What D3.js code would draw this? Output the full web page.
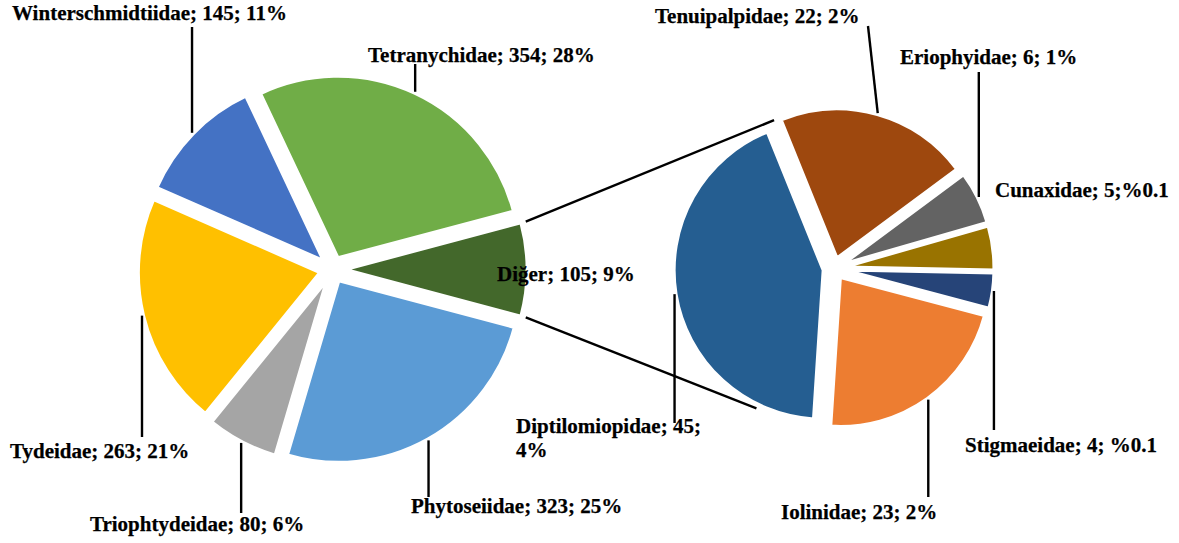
<!DOCTYPE html>
<html>
<head>
<meta charset="utf-8">
<script src="https://cdn.jsdelivr.net/npm/d3@7"></script>
<style>
  body { margin: 0; background: #fff; }
  text { font-family: "Liberation Serif", "Times New Roman", serif; font-weight: bold; font-size: 21px; fill: #000; stroke: #000; stroke-width: 0.25px; }
</style>
</head>
<body>
<svg id="chart"></svg>
<script>
// main pie (clockwise from 12 o'clock)
const mainNames = ["Tetranychidae", "Diğer", "Phytoseiidae", "Triophtydeidae", "Tydeidae", "Winterschmidtiidae"];
const mainValues = [354, 105, 323, 80, 263, 145];
const mainPercents = ["28%", "9%", "25%", "6%", "21%", "11%"];
const mainColors = ["#70ad47", "#43682b", "#5b9bd5", "#a5a5a5", "#ffc000", "#4472c4"];
const otherIndex = 1;

// second pie: breakdown of "Diğer"
const subNames = ["Tenuipalpidae", "Eriophyidae", "Cunaxidae", "Stigmaeidae", "Iolinidae", "Diptilomiopidae"];
const subValues = [22, 6, 5, 4, 23, 45];
const subPercents = ["2%", "1%", "%0.1", "%0.1", "2%", "4%"];
const subColors = ["#9e480e", "#636363", "#997300", "#264478", "#ed7d31", "#255e91"];

const width = 1179, height = 543;
const deg = Math.PI / 180;

// label placement (baseline x/y) and leader line start
const mainLabelPos = [
    { x: 368, y: 62, leaderY: 64 },
    { x: 497, y: 281 },
    { x: 411, y: 513, leaderY: 497 },
    { x: 90, y: 531, leaderY: 513 },
    { x: 10, y: 458, leaderY: 437 },
    { x: 12, y: 20, leaderY: 27 }
];
const subLabelPos = [
    { x: 655, y: 23, leaderY: 26, leaderX: 868 },
    { x: 900, y: 64, leaderY: 72 },
    { x: 995, y: 197, tight: true },
    { x: 965, y: 452, leaderY: 430 },
    { x: 781, y: 519, leaderY: 497 },
    { x: 516, y: 433, leaderY: 423, wrap: true }
];

const mainGeo = { cx: 332.5, cy: 269.5, r: 181.5, explode: 13 };
const subGeo = { cx: 834, cy: 268.5, r: 149, explode: 11, start: -22 * deg };
const bottomConnectorAngle = 209 * deg;
const lineWidth = 2.4;

const svg = d3.select("#chart")
    .attr("width", width)
    .attr("height", height)
    .attr("viewBox", `0 0 ${width} ${height}`);

const dir = a => [Math.sin(a), -Math.cos(a)];

// main pie rotated so "Diğer" is centred at 3 o'clock
const total = d3.sum(mainValues);
const before = d3.sum(mainValues.slice(0, otherIndex)) + mainValues[otherIndex] / 2;
const mainStart = 90 * deg - before / total * 2 * Math.PI;

const mainArcs = d3.pie().sort(null).value(d => d)
    .startAngle(mainStart).endAngle(mainStart + 2 * Math.PI)(mainValues);
const subArcs = d3.pie().sort(null).value(d => d)
    .startAngle(subGeo.start).endAngle(subGeo.start + 2 * Math.PI)(subValues);

function sliceCenter(geo, d) {
    const m = (d.startAngle + d.endAngle) / 2;
    const [ux, uy] = dir(m);
    return [geo.cx + geo.explode * ux, geo.cy + geo.explode * uy];
}

// connector lines between the two pies
const other = mainArcs[otherIndex];
const oc = sliceCenter(mainGeo, other);
const connR = mainGeo.r + 5;
const subR = subGeo.r + subGeo.explode;
const connectors = [
    [[oc[0] + connR * dir(other.startAngle)[0], oc[1] + connR * dir(other.startAngle)[1]],
     [subGeo.cx + subR * dir(subGeo.start)[0], subGeo.cy + subR * dir(subGeo.start)[1]]],
    [[oc[0] + connR * dir(other.endAngle)[0], oc[1] + connR * dir(other.endAngle)[1]],
     [subGeo.cx + subR * dir(bottomConnectorAngle)[0], subGeo.cy + subR * dir(bottomConnectorAngle)[1]]]
];
svg.append("g").selectAll("line")
    .data(connectors)
    .enter().append("line")
    .attr("x1", d => d[0][0]).attr("y1", d => d[0][1])
    .attr("x2", d => d[1][0]).attr("y2", d => d[1][1])
    .attr("stroke", "#000")
    .attr("stroke-width", lineWidth);

function drawPie(geo, arcs, colors) {
    const arc = d3.arc().innerRadius(0).outerRadius(geo.r);
    svg.append("g").selectAll("path")
        .data(arcs)
        .enter().append("path")
        .attr("transform", d => `translate(${sliceCenter(geo, d).join(",")})`)
        .attr("d", arc)
        .attr("fill", (d, i) => colors[i])
        .attr("stroke", "#fff")
        .attr("stroke-width", 3)
        .attr("stroke-linejoin", "round");
}

function drawLabels(geo, arcs, names, values, percents, layout) {
    const g = svg.append("g");
    arcs.forEach((d, i) => {
        const pos = layout[i];
        if (pos.leaderY !== undefined) {
            const m = (d.startAngle + d.endAngle) / 2;
            const c = sliceCenter(geo, d);
            const [ux, uy] = dir(m);
            const ex = c[0] + (geo.r + 1.5) * ux;
            const ey = c[1] + (geo.r + 1.5) * uy;
            g.append("line")
                .attr("x1", pos.leaderX !== undefined ? pos.leaderX : ex)
                .attr("y1", pos.leaderY)
                .attr("x2", ex).attr("y2", ey)
                .attr("stroke", "#000")
                .attr("stroke-width", lineWidth);
        }
        const sep = pos.tight ? ";" : "; ";
        const head = `${names[i]}; ${values[i]};`;
        const t = g.append("text").attr("x", pos.x).attr("y", pos.y);
        if (pos.wrap) {
            t.append("tspan").text(head);
            t.append("tspan").attr("x", pos.x).attr("dy", 24).text(percents[i]);
        } else {
            t.text(`${names[i]}; ${values[i]}${sep}${percents[i]}`);
        }
    });
}

drawPie(mainGeo, mainArcs, mainColors);
drawPie(subGeo, subArcs, subColors);
drawLabels(mainGeo, mainArcs, mainNames, mainValues, mainPercents, mainLabelPos);
drawLabels(subGeo, subArcs, subNames, subValues, subPercents, subLabelPos);
</script>
</body>
</html>
